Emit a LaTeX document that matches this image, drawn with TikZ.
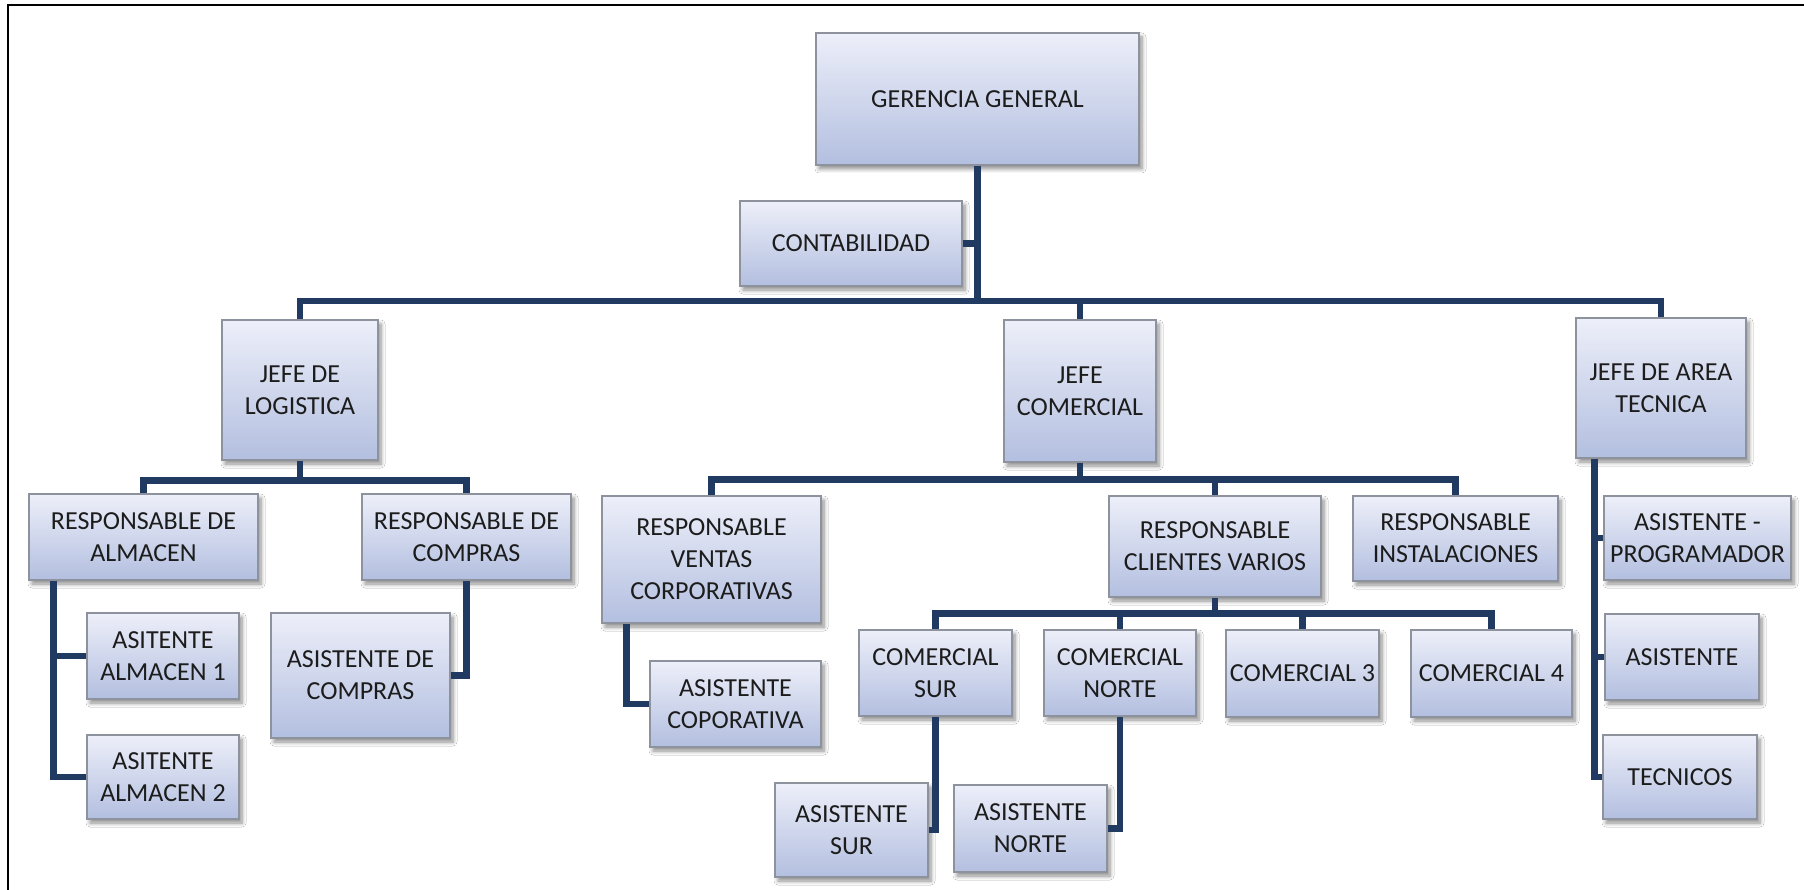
\documentclass[tikz,border=0pt]{standalone}
\usepackage{fontspec}
\setmainfont{Carlito}
\usetikzlibrary{calc,shadows.blur}

\definecolor{linkc}{HTML}{203A62}
\definecolor{boxtop}{HTML}{EDEFF9}
\definecolor{boxbot}{HTML}{B3BFE0}
\definecolor{boxedge}{HTML}{8E929C}
\definecolor{txt}{HTML}{1C1C1C}

\tikzset{
  orgbox/.style={draw=boxedge, line width=1.5pt,
    top color=boxtop, bottom color=boxbot,
    align=center, text=txt, inner sep=2pt,
    font=\fontsize{26}{32}\selectfont,
    blur shadow={shadow xshift=3pt, shadow yshift=-4pt,
      shadow blur radius=4pt, shadow blur steps=6, shadow opacity=45}},
  link/.style={draw=linkc, line width=6.5pt, line join=miter}
}

% name, centre x, centre y (downwards), width, height, label
\newcommand\orgnode[6]{%
  \node[orgbox, minimum width=#4pt, minimum height=#5pt] (#1) at (#2,-#3) {#6};}

\begin{document}
\begin{tikzpicture}[x=1pt,y=1pt]
\useasboundingbox (0,0) rectangle (1804,-890);
\fill[white] (0,0) rectangle (1804,-890);

% frame
\draw[line width=2.5pt] (8,-890) -- (8,-5) -- (1804,-5);

% boxes
\orgnode{ger}{977.5}{99}{323}{132}{GERENCIA GENERAL}
\orgnode{cont}{851}{243.5}{222}{85}{CONTABILIDAD}

\orgnode{jlog}{300}{390}{156}{140}{JEFE DE\\LOGISTICA}
\orgnode{jcom}{1080}{391}{152}{142}{JEFE\\COMERCIAL}
\orgnode{jtec}{1661}{388}{170}{140}{JEFE DE AREA\\TECNICA}

\orgnode{ralm}{143.5}{537}{229}{86}{RESPONSABLE DE\\ALMACEN}
\orgnode{rcom}{466.5}{537}{209}{86}{RESPONSABLE DE\\COMPRAS}
\orgnode{aal1}{163}{656}{152}{86}{ASITENTE\\ALMACEN 1}
\orgnode{aal2}{163}{777}{152}{84}{ASITENTE\\ALMACEN 2}
\orgnode{acom}{360.5}{675.5}{179}{125}{ASISTENTE DE\\COMPRAS}

\orgnode{rven}{711.5}{559.5}{219}{127}{RESPONSABLE\\VENTAS\\CORPORATIVAS}
\orgnode{acor}{735.5}{704}{171}{86}{ASISTENTE\\COPORATIVA}
\orgnode{rcli}{1215}{546.5}{212}{101}{RESPONSABLE\\CLIENTES VARIOS}
\orgnode{rins}{1455.5}{538.5}{205}{85}{RESPONSABLE\\INSTALACIONES}

\orgnode{csur}{935.5}{673}{153}{86}{COMERCIAL\\SUR}
\orgnode{cnor}{1120}{673}{152}{86}{COMERCIAL\\NORTE}
\orgnode{cthree}{1302.5}{673.5}{153}{87}{COMERCIAL 3}
\orgnode{cfour}{1491.5}{673.5}{161}{87}{COMERCIAL 4}
\orgnode{asur}{851.5}{830}{153}{94}{ASISTENTE\\SUR}
\orgnode{anor}{1030.5}{828.5}{153}{87}{ASISTENTE\\NORTE}

\orgnode{aprog}{1697.5}{538}{187}{84}{ASISTENTE -\\PROGRAMADOR}
\orgnode{asis}{1682}{657}{154}{86}{ASISTENTE}
\orgnode{tec}{1680}{777}{154}{84}{TECNICOS}

% top level
\draw[link] (ger.south) -- ($(ger.south |- jlog.north)+(0,18)$);
\draw[link] (cont.east) -- (cont.east -| ger.south);
\draw[link] (jlog.north) -- ++(0,18) -| (jtec.north);
\draw[link] (jcom.north) -- ++(0,18);

% logistics
\draw[link] (jlog.south) -- ++(0,-21);
\draw[link] (ralm.north) -- ++(0,13) -| (rcom.north);
\draw[link] ([xshift=25pt]ralm.south west) |- (aal2.west);
\draw[link] ([xshift=25pt]ralm.south west) |- (aal1.west);
\draw[link] (rcom.south) |- (acom.east);

% commercial
\draw[link] (jcom.south) -- ++(0,-18);
\draw[link] (rven.north) -- ++(0,16) -| (rins.north);
\draw[link] (rcli.north) -- ++(0,16);
\draw[link] ([xshift=25pt]rven.south west) |- (acor.west);
\draw[link] (rcli.south) -- ++(0,-17);
\draw[link] (csur.north) -- ++(0,16) -| (cfour.north);
\draw[link] (cnor.north) -- ++(0,16);
\draw[link] (cthree.north) -- ++(0,16);
\draw[link] (csur.south) |- (asur.east);
\draw[link] (cnor.south) |- (anor.east);

% technical
\draw[link] ([xshift=19pt]jtec.south west) |- (tec.west);
\draw[link] ([xshift=19pt]jtec.south west) |- (aprog.west);
\draw[link] ([xshift=19pt]jtec.south west) |- (asis.west);
\end{tikzpicture}
\end{document}
